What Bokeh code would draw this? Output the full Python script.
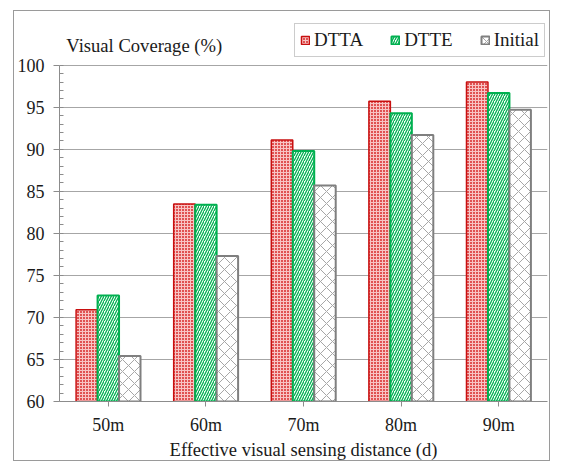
from bokeh.plotting import figure
from bokeh.models import (FactorRange, FixedTicker, Legend, LegendItem, Label,
                          ColumnDataSource)
from bokeh.transform import dodge
from bokeh.embed import file_html
from bokeh.resources import INLINE

categories = ["50m", "60m", "70m", "80m", "90m"]
dtta = [70.9, 83.5, 91.1, 95.7, 98.0]
dtte = [72.6, 83.4, 89.8, 94.3, 96.7]
initial = [65.4, 77.3, 85.7, 91.7, 94.7]
y_ticks = [60, 65, 70, 75, 80, 85, 90, 95, 100]

FONT = "'Liberation Serif', serif"

src = ColumnDataSource(dict(cat=categories, dtta=dtta, dtte=dtte, initial=initial))

p = figure(width=537, height=451, x_range=FactorRange(*categories, range_padding=0),
           y_range=(60, 105.2), output_backend="svg", toolbar_location=None,
           min_border_left=45, min_border_right=4, min_border_top=10, min_border_bottom=59,
           margin=(10, 0, 0, 13))
p.styles = {"border": "1px solid #9a9a9a"}
p.outline_line_color = None

bw = 0.22
r1 = p.vbar(x=dodge("cat", -bw, range=p.x_range), top="dtta", bottom=60, width=bw, source=src,
            fill_color="#e05252", line_color="#c81010", line_width=1.5,
            hatch_pattern="cross", hatch_color="#f8c4c4", hatch_scale=3, hatch_weight=1)
r2 = p.vbar(x=dodge("cat", 0, range=p.x_range), top="dtte", bottom=60, width=bw, source=src,
            fill_color="white", line_color="#00b050", line_width=2,
            hatch_pattern="right_diagonal_line", hatch_color="#00b050", hatch_scale=5, hatch_weight=1.3)
r3 = p.vbar(x=dodge("cat", bw, range=p.x_range), top="initial", bottom=60, width=bw, source=src,
            fill_color="white", line_color="#7f7f7f", line_width=2,
            hatch_pattern="diagonal_cross", hatch_color="#a6a6a6", hatch_scale=12, hatch_weight=1)

# y axis
p.yaxis.ticker = FixedTicker(ticks=y_ticks, minor_ticks=list(range(60, 101)))
p.yaxis.bounds = (60, 100)
p.yaxis.axis_line_color = "#8c8c8c"
p.yaxis.major_tick_line_color = "#8c8c8c"
p.yaxis.minor_tick_line_color = "#8c8c8c"
p.yaxis.major_tick_out = 6
p.yaxis.major_tick_in = 0
p.yaxis.minor_tick_in = 4
p.yaxis.minor_tick_out = 0
p.yaxis.major_label_text_font = FONT
p.yaxis.major_label_text_font_size = "18px"
p.yaxis.major_label_text_color = "#1a1a1a"
p.yaxis.major_label_standoff = 9

# x axis
p.xaxis.axis_line_color = "#8c8c8c"
p.xaxis.major_tick_line_color = "#8c8c8c"
p.xaxis.major_tick_out = 5
p.xaxis.major_tick_in = 0
p.xaxis.major_label_text_font = FONT
p.xaxis.major_label_text_font_size = "18px"
p.xaxis.major_label_text_color = "#1a1a1a"
p.xaxis.major_label_standoff = 8
p.xaxis.axis_label = "Effective visual sensing distance (d)"
p.xaxis.axis_label_text_font = FONT
p.xaxis.axis_label_text_font_style = "normal"
p.xaxis.axis_label_text_font_size = "18.5px"
p.xaxis.axis_label_text_color = "#1a1a1a"
p.xaxis.axis_label_standoff = 2

p.xgrid.grid_line_color = None
p.ygrid.grid_line_color = "#a6a6a6"
p.ygrid.bounds = (60, 100)

# title inside plot
p.add_layout(Label(x=0.07, y=102.37, text="Visual Coverage (%)", text_font=FONT,
                   text_font_size="18.6px", text_baseline="middle", text_color="#1a1a1a"))

legend = Legend(items=[LegendItem(label="DTTA", renderers=[r1]),
                       LegendItem(label="DTTE", renderers=[r2]),
                       LegendItem(label="Initial", renderers=[r3])],
                orientation="horizontal", location=(235, 344),
                label_text_font=FONT, label_text_font_size="19px", label_text_color="#1a1a1a",
                glyph_width=10, glyph_height=10, label_standoff=4, spacing=27,
                padding=5, margin=0, border_line_color="#9a9a9a", border_line_width=1.5,
                background_fill_alpha=1)
p.add_layout(legend, "center")

open("out.html", "w").write(file_html(p, INLINE))
